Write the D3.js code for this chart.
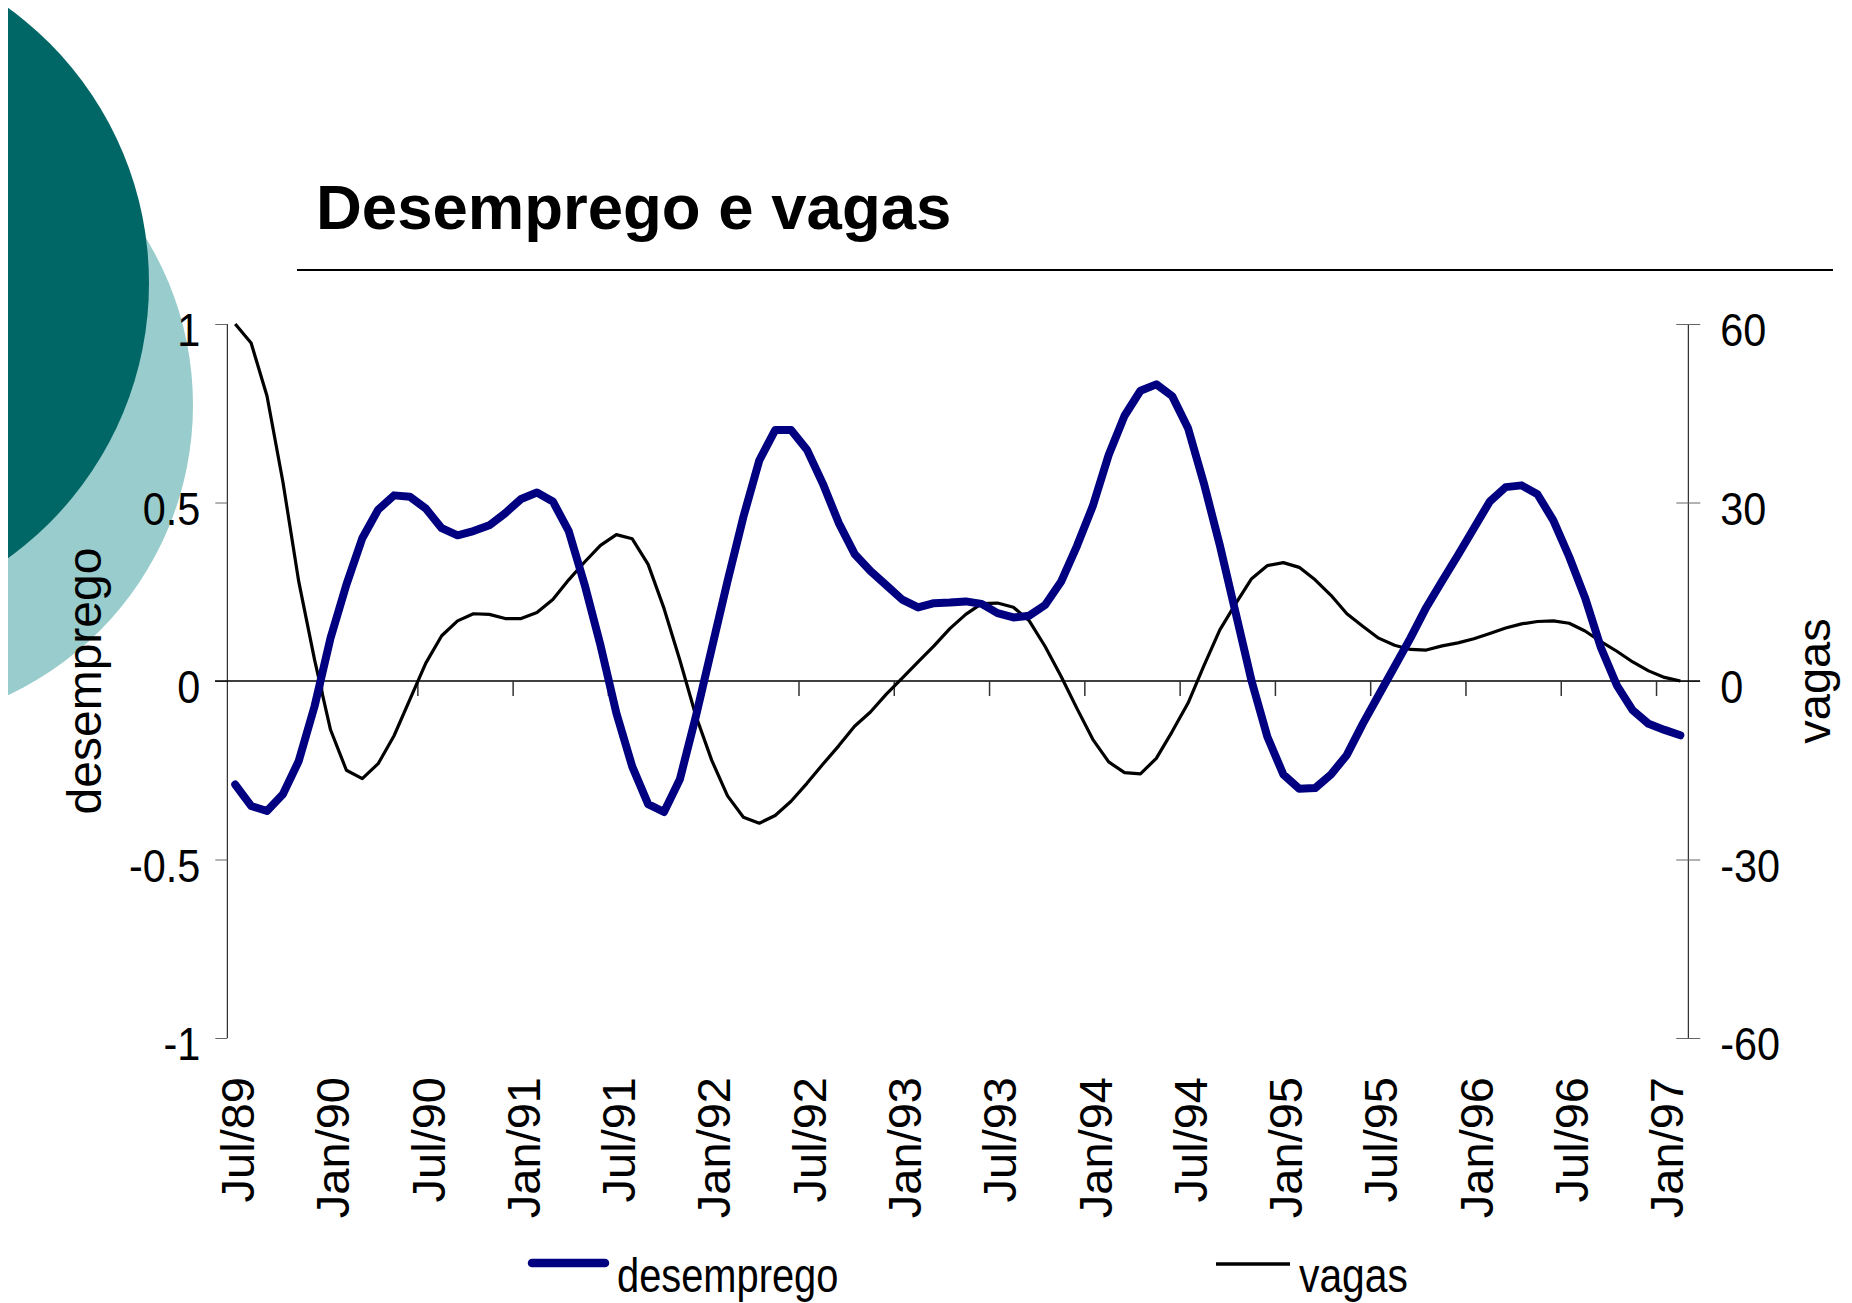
<!DOCTYPE html>
<html>
<head>
<meta charset="utf-8">
<script src="https://cdn.jsdelivr.net/npm/d3@7"></script>
<style>
  body { margin: 0; background: #fff; }
  text { font-family: "Liberation Sans", Arial, sans-serif; fill: #000; }
</style>
</head>
<body>
<svg id="chart" width="1852" height="1303"></svg>
<script>
// monthly series, Jul/89 .. Feb/97
let mesesPt = ['Jan','Fev','Mar','Abr','Mai','Jun','Jul','Ago','Set','Out','Nov','Dez'];
let categories = [];
for (let k = 0; k < 92; k++) {
    let m = (6 + k) % 12;
    let yy = 89 + Math.floor((6 + k) / 12);
    categories.push(mesesPt[m] + '/' + String(yy % 100).padStart(2, '0'));
}

let tickLabels = ['Jul/89','Jan/90','Jul/90','Jan/91','Jul/91','Jan/92','Jul/92','Jan/93',
                  'Jul/93','Jan/94','Jul/94','Jan/95','Jul/95','Jan/96','Jul/96','Jan/97'];

let desemprego = [
    -0.29, -0.35, -0.364, -0.317, -0.224, -0.07, 0.12, 0.27, 0.40, 0.48,
    0.52, 0.516, 0.483, 0.428, 0.408, 0.42, 0.436, 0.47, 0.51, 0.528,
    0.503, 0.42, 0.27, 0.10, -0.09, -0.24, -0.345, -0.367, -0.275, -0.10,
    0.09, 0.28, 0.46, 0.618, 0.703, 0.703, 0.648, 0.553, 0.443, 0.356,
    0.308, 0.268, 0.228, 0.206, 0.218, 0.22, 0.223, 0.216, 0.19, 0.178,
    0.183, 0.213, 0.278, 0.378, 0.49, 0.633, 0.743, 0.813, 0.831, 0.798,
    0.708, 0.553, 0.38, 0.19, 0.0, -0.157, -0.262, -0.302, -0.30, -0.262,
    -0.207, -0.12, -0.04, 0.04, 0.12, 0.206, 0.28, 0.353, 0.428, 0.503,
    0.543, 0.548, 0.523, 0.45, 0.348, 0.233, 0.093, -0.012, -0.082, -0.12,
    -0.137, -0.152
];

let vagas = [
    60.0, 56.8, 47.9, 33.5, 16.7, 3.5, -8.2, -15.0, -16.4, -13.9,
    -9.2, -3.1, 3.0, 7.6, 10.1, 11.3, 11.2, 10.5, 10.5, 11.5,
    13.7, 17.0, 20.0, 22.8, 24.6, 23.9, 19.6, 12.2, 3.5, -5.8,
    -13.3, -19.3, -22.9, -23.9, -22.6, -20.2, -17.2, -14.0, -10.9, -7.6,
    -5.2, -2.2, 0.5, 3.2, 5.9, 8.8, 11.2, 13.0, 13.1, 12.4,
    10.1, 5.8, 0.8, -4.6, -9.8, -13.6, -15.4, -15.6, -13.0, -8.5,
    -3.7, 2.6, 8.6, 13.0, 17.2, 19.4, 19.9, 19.1, 17.0, 14.4,
    11.3, 9.2, 7.2, 6.0, 5.3, 5.2, 5.9, 6.4, 7.1, 8.0,
    8.9, 9.6, 10.0, 10.1, 9.7, 8.4, 6.6, 5.0, 3.2, 1.7,
    0.6, 0.0
];

let leftTicks = [-1, -0.5, 0, 0.5, 1];
let rightTicks = [-60, -30, 0, 30, 60];

let svg = d3.select('#chart');

// decorative circles on the left
let deco = svg.append('g');
deco.append('clipPath').attr('id', 'clipL')
    .append('rect').attr('x', 8).attr('y', 0).attr('width', 400).attr('height', 800);
deco.append('circle').attr('cx', -127).attr('cy', 405).attr('r', 320)
    .attr('fill', '#99cccc').attr('clip-path', 'url(#clipL)');
deco.append('circle').attr('cx', -190).attr('cy', 283).attr('r', 339)
    .attr('fill', '#006666').attr('clip-path', 'url(#clipL)');

// title and rule
svg.append('text').attr('x', 316).attr('y', 229)
    .attr('font-size', 63.5).attr('font-weight', 'bold')
    .text('Desemprego e vagas');
svg.append('line').attr('x1', 297).attr('x2', 1833).attr('y1', 270).attr('y2', 270)
    .attr('stroke', '#000').attr('stroke-width', 2);

// scales
let x = d3.scaleBand().domain(categories).range([227.3, 1688.3]);
let yL = d3.scaleLinear().domain([-1, 1]).range([1038, 324]);
let yR = d3.scaleLinear().domain([-60, 60]).range([1038, 324]);
let cx = d => x(d) + x.bandwidth() / 2;

// left axis
let gL = svg.append('g').attr('transform', 'translate(227.3,0)')
    .call(d3.axisLeft(yL).tickValues(leftTicks).tickSize(12).tickFormat(d => String(d)));
gL.select('.domain').attr('stroke', '#000').attr('d', 'M0,324V1038');
gL.selectAll('.tick line').attr('stroke', '#666');
gL.selectAll('.tick text')
    .attr('font-size', 46).attr('font-family', '"Liberation Sans", Arial, sans-serif')
    .attr('x', -27 / 0.9).attr('dy', '0.47em').attr('transform', 'scale(0.9,1)');

// right axis
let gR = svg.append('g').attr('transform', 'translate(1688.3,0)')
    .call(d3.axisRight(yR).tickValues(rightTicks).tickSize(12).tickFormat(d => String(d)));
gR.select('.domain').attr('stroke', '#000').attr('d', 'M0,324V1038');
gR.selectAll('.tick line').attr('stroke', '#666').attr('x1', -12).attr('x2', 12);
gR.selectAll('.tick text')
    .attr('font-size', 46).attr('font-family', '"Liberation Sans", Arial, sans-serif')
    .attr('x', 32 / 0.9).attr('dy', '0.47em').attr('transform', 'scale(0.9,1)');

// category axis on the zero line
svg.append('line')
    .attr('x1', 215).attr('x2', 1700)
    .attr('y1', yL(0)).attr('y2', yL(0))
    .attr('stroke', '#000').attr('stroke-width', 1.5);

svg.append('g').selectAll('line')
    .data(tickLabels.slice(1))
    .join('line')
    .attr('x1', d => x(d)).attr('x2', d => x(d))
    .attr('y1', yL(0)).attr('y2', yL(0) + 15)
    .attr('stroke', '#333').attr('stroke-width', 1.5);

let gX = svg.append('g').attr('transform', 'translate(0,1038)')
    .call(d3.axisBottom(x).tickValues(tickLabels).tickSize(0));
gX.select('.domain').remove();
gX.selectAll('.tick text')
    .attr('font-size', 47).attr('font-family', '"Liberation Sans", Arial, sans-serif')
    .attr('transform', 'rotate(-90)')
    .attr('text-anchor', 'end')
    .attr('x', -39).attr('y', 0).attr('dy', '0.4em');

// axis titles
svg.append('text').attr('transform', 'translate(101,681) rotate(-90)')
    .attr('text-anchor', 'middle').attr('font-size', 48).text('desemprego');
svg.append('text').attr('transform', 'translate(1830,681) rotate(-90)')
    .attr('text-anchor', 'middle').attr('font-size', 47).text('vagas');

// series lines
let lineL = d3.line().x((d, i) => cx(categories[i])).y(d => yL(d));
let lineR = d3.line().x((d, i) => cx(categories[i])).y(d => yR(d));

svg.append('path').datum(vagas)
    .attr('d', lineR)
    .attr('fill', 'none').attr('stroke', '#000').attr('stroke-width', 3.2)
    .attr('stroke-linejoin', 'round');

svg.append('path').datum(desemprego)
    .attr('d', lineL)
    .attr('fill', 'none').attr('stroke', '#000080').attr('stroke-width', 8)
    .attr('stroke-linejoin', 'round').attr('stroke-linecap', 'round');

// legend
let legend = svg.append('g');
legend.append('line').attr('x1', 532).attr('x2', 605).attr('y1', 1263).attr('y2', 1263)
    .attr('stroke', '#000080').attr('stroke-width', 8.5).attr('stroke-linecap', 'round');
legend.append('text').attr('transform', 'translate(617,1292) scale(0.83,1)')
    .attr('font-size', 48).text('desemprego');
legend.append('line').attr('x1', 1216).attr('x2', 1290).attr('y1', 1264).attr('y2', 1264)
    .attr('stroke', '#000').attr('stroke-width', 3.5);
legend.append('text').attr('transform', 'translate(1299,1292) scale(0.85,1)')
    .attr('font-size', 48).text('vagas');
</script>
</body>
</html>
